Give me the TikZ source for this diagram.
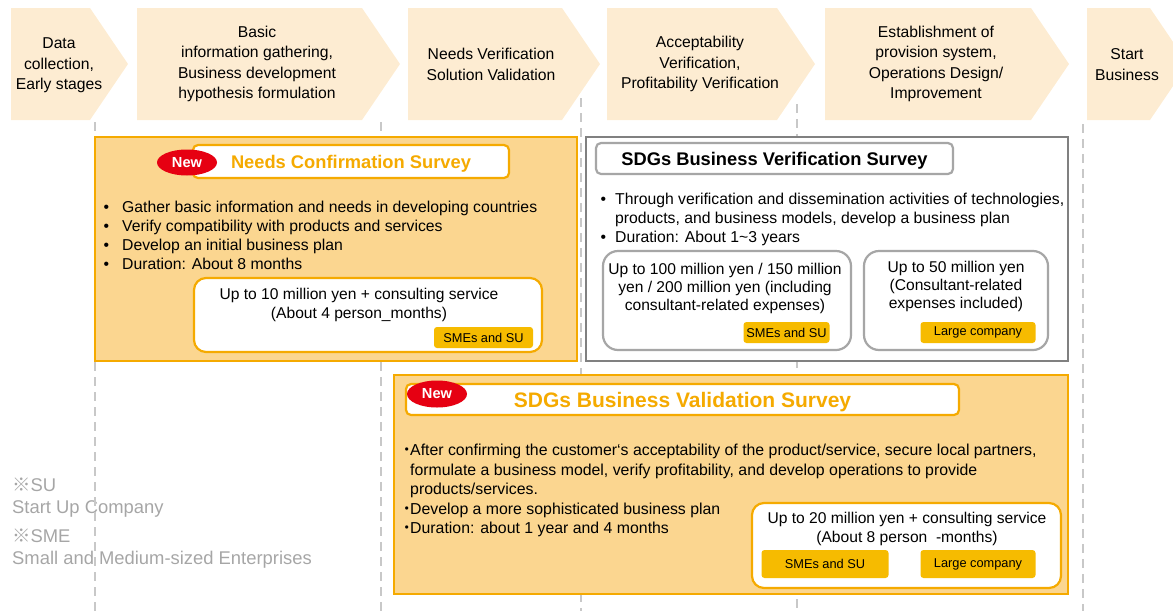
\documentclass[tikz,border=0pt]{standalone}
\usepackage{fontspec}
\setmainfont{Liberation Sans}
\newfontfamily\cjk{Noto Sans CJK JP}
\usetikzlibrary{shapes.geometric}

\definecolor{stagefill}{RGB}{253,236,210}
\definecolor{boxfill}{RGB}{251,214,144}
\definecolor{boxline}{RGB}{245,170,0}
\definecolor{tagfill}{RGB}{246,187,0}
\definecolor{newred}{RGB}{230,0,18}
\definecolor{darkline}{RGB}{128,128,128}
\definecolor{lightline}{RGB}{166,166,166}
\definecolor{guidegray}{RGB}{200,200,200}
\definecolor{notegray}{RGB}{166,166,166}

\tikzset{
  stage/.style={align=center, inner sep=0pt, font=\fontsize{15.7}{20.3}\selectfont},
  guide/.style={draw=guidegray, line width=2.5pt, dash pattern=on 9pt off 6pt},
  orangebox/.style={draw=boxline, fill=boxfill, line width=2.2pt},
  graybox/.style={draw=darkline, fill=white, line width=2.5pt},
  titlebox/.style={draw=boxline, fill=white, line width=2.2pt, rounded corners=5pt, inner sep=0pt, text depth=0pt},
  graytitle/.style={draw=lightline, fill=white, line width=2.2pt, rounded corners=5pt, inner sep=0pt, text depth=0pt},
  costbox/.style={draw=boxline, fill=white, line width=2.2pt, rounded corners=12pt},
  grayinner/.style={draw=lightline, fill=white, line width=2.2pt, rounded corners=15pt},
  newmark/.style={ellipse, fill=newred, text=white, inner sep=0pt,
    minimum width=60pt, minimum height=26pt, font=\bfseries\fontsize{14.6}{15}\selectfont},
  bodytext/.style={anchor=north west, align=left, inner sep=0pt, font=\fontsize{15.75}{19}\selectfont},
  costtext/.style={align=center, inner sep=0pt, font=\fontsize{15.6}{18.5}\selectfont},
  tag/.style={fill=tagfill, rounded corners=3pt, inner sep=0pt, font=\fontsize{12.8}{14}\selectfont},
  note/.style={anchor=north west, align=left, inner sep=0pt, text=notegray, font=\fontsize{18.4}{22}\selectfont}
}

\begin{document}
\begin{tikzpicture}[x=1pt,y=-1pt]
  \clip (0,0) rectangle (1173,611);

  % stages
  \fill[stagefill] (11,8) -- (90,8) -- (128,64) -- (90,120) -- (11,120) -- cycle;
  \fill[stagefill] (137,8) -- (362,8) -- (400,64) -- (362,120) -- (137,120) -- cycle;
  \fill[stagefill] (408,8) -- (562,8) -- (600,64) -- (562,120) -- (408,120) -- cycle;
  \fill[stagefill] (607,8) -- (777,8) -- (815,64) -- (777,120) -- (607,120) -- cycle;
  \fill[stagefill] (825,8) -- (1031,8) -- (1069,64) -- (1031,120) -- (825,120) -- cycle;
  \fill[stagefill] (1087,8) -- (1150,8) -- (1188,64) -- (1150,120) -- (1087,120) -- cycle;

  \node[stage] at (59,65.5) (early) {Data\\collection,\\Early stages};
  \node[stage] at (257,64) (basic) {Basic\\information gathering,\\Business development\\hypothesis formulation};
  \node[stage] at (491,64.5) (needs) {Needs Verification\\Solution Validation};
  \node[stage] at (700,64) (accept) {Acceptability\\Verification,\\Profitability Verification};
  \node[stage] at (936,64) (provision) {Establishment of\\provision system,\\Operations Design/\\Improvement};
  \node[stage] at (1127,64.5) (start) {Start\\Business};

  % notes
  \node[note] at (12,477.5) (su) {{\cjk ※}SU\\Start Up Company};
  \node[note] at (12,528.5) (sme) {{\cjk ※}SME\\Small and Medium-sized Enterprises};

  % guide lines
  \draw[guide] (95,122) -- (95,611);
  \draw[guide] (381,122) -- (381,611);
  \draw[guide] (581,98) -- (581,611);
  \draw[guide] (797,104) -- (797,611);
  \draw[guide] (1083,124) -- (1083,611);

  % needs confirmation survey
  \draw[orangebox] (95,137) rectangle (577,361);
  \node[titlebox, minimum width=316, minimum height=33, text=boxline,
    font=\bfseries\fontsize{18.3}{20}\selectfont] at (351,161.5) (needsTitle) {Needs Confirmation Survey};
  \node[newmark] at (187,162.5) (needsNew) {New};
  \node[bodytext] at (103.5,200.5) (needsList) {\makebox[18.5pt][l]{•}Gather basic information and needs in developing countries\\
    \makebox[18.5pt][l]{•}Verify compatibility with products and services\\
    \makebox[18.5pt][l]{•}Develop an initial business plan\\
    \makebox[18.5pt][l]{•}Duration: About 8 months};
  \draw[costbox] (194,278) rectangle (542,352);
  \node[costtext] at (359,305) (needsCost) {Up to 10 million yen + consulting service\\(About 4 person\_months)};
  \node[tag, minimum width=99, minimum height=21] at (483.5,337.5) (needsTag) {SMEs and SU};

  % business verification survey
  \draw[graybox] (586,137) rectangle (1068,361);
  \node[graytitle, minimum width=357, minimum height=31,
    font=\bfseries\fontsize{18.3}{20}\selectfont] at (774.5,158.5) (verifTitle) {SDGs Business Verification Survey};
  \node[bodytext] at (600.3,192.5) (verifList) {\makebox[14.7pt][l]{•}Through verification and dissemination activities of technologies,\\
    \hspace*{14.7pt}products, and business models, develop a business plan\\
    \makebox[14.7pt][l]{•}Duration: About 1\textasciitilde3 years};
  \draw[grayinner] (603,251) rectangle (851,350);
  \draw[grayinner] (864,251) rectangle (1048,350);
  \node[costtext, font=\fontsize{15.6}{18}\selectfont] at (725,288) (verifSmall) {Up to 100 million yen / 150 million\\yen / 200 million yen (including\\consultant-related expenses)};
  \node[costtext, font=\fontsize{15.6}{18}\selectfont] at (956,286) (verifLarge) {Up to 50 million yen\\(Consultant-related\\expenses included)};
  \node[tag, minimum width=86, minimum height=21] at (786.5,332.5) (verifTagS) {SMEs and SU};
  \node[tag, minimum width=115, minimum height=21] at (978,332.5) (verifTagL) {Large company};

  % business validation survey
  \draw[orangebox] (394,375) rectangle (1068,594);
  \node[titlebox, minimum width=553, minimum height=31, text=boxline,
    font=\bfseries\fontsize{21}{22}\selectfont] at (682.5,399.5) (validTitle) {SDGs Business Validation Survey};
  \node[newmark, minimum height=27pt] at (437,394) (validNew) {New};
  \node[bodytext, font=\fontsize{15.85}{19.5}\selectfont] at (403,444) (validList) {\makebox[7pt]{\cjk ・}After confirming the customer‘s acceptability of the product/service, secure local partners,\\
    \hspace*{7pt}formulate a business model, verify profitability, and develop operations to provide\\
    \hspace*{7pt}products/services.\\
    \makebox[7pt]{\cjk ・}Develop a more sophisticated business plan\\
    \makebox[7pt]{\cjk ・}Duration: about 1 year and 4 months};
  \draw[costbox] (752,503) rectangle (1061,588);
  \node[costtext] at (907,529) (validCost) {Up to 20 million yen + consulting service\\(About 8 person\ \ -months)};
  \node[tag, minimum width=127, minimum height=28] at (825,564) (validTagS) {SMEs and SU};
  \node[tag, minimum width=115, minimum height=28] at (978,564) (validTagL) {Large company};
\end{tikzpicture}
\end{document}
